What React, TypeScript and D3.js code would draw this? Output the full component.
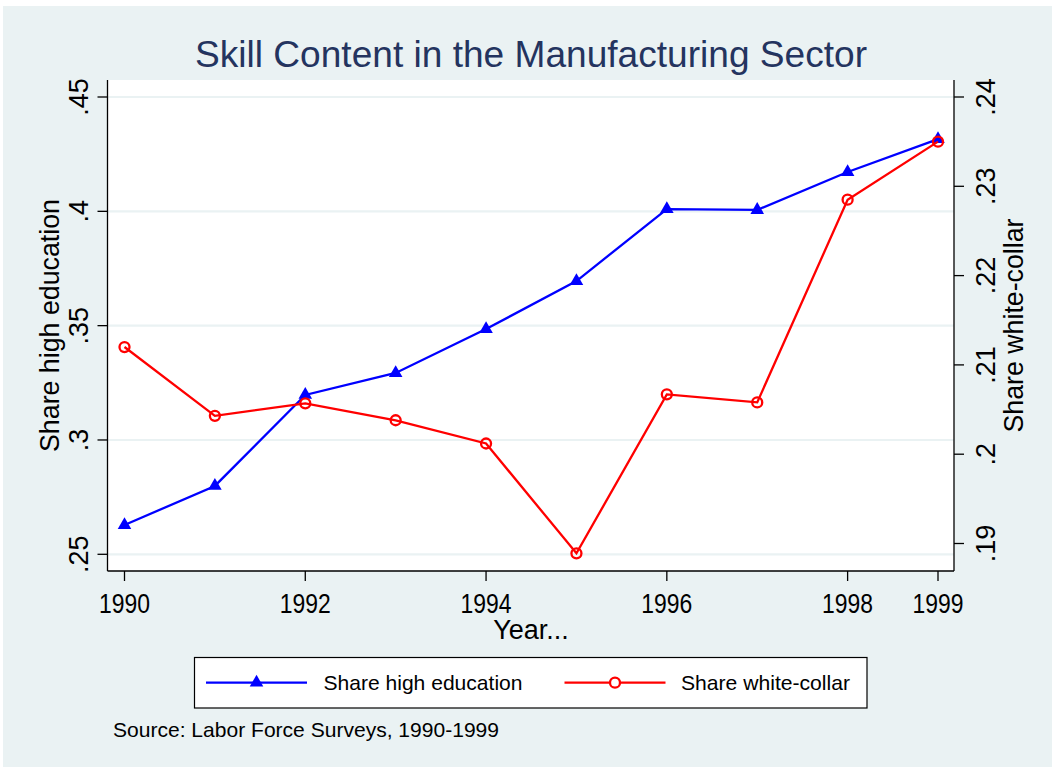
import React from "react";
import * as d3 from "d3";

// Data
const years = [1990, 1991, 1992, 1993, 1994, 1995, 1996, 1997, 1998, 1999];
const highEdu = [0.2628, 0.2799, 0.3197, 0.3293, 0.3485, 0.3695, 0.401, 0.4006, 0.4172, 0.4316];
const whiteCollar = [0.212, 0.2043, 0.2057, 0.2038, 0.2012, 0.1889, 0.2067, 0.2058, 0.2285, 0.235];

const xTicks = [1990, 1992, 1994, 1996, 1998, 1999];
const leftTicks = [0.25, 0.3, 0.35, 0.4, 0.45];
const rightTicks = [0.19, 0.2, 0.21, 0.22, 0.23, 0.24];

const fmt = (v: number) => {
  const s = String(+v.toFixed(3));
  return s.startsWith("0") ? s.slice(1) : s;
};

const W = 1055;
const H = 770;
const plot = { left: 107.5, right: 954, top: 80, bottom: 571 };

const BG = "#eaf2f3";
const FONT = "'Liberation Sans', Arial, sans-serif";
const BLUE = "#0000ff";
const RED = "#ff0000";

const App: React.FC = () => {
  const x = d3.scaleLinear().domain([1990, 1999]).range([124.5, 938]);
  const yL = d3.scaleLinear().domain([0.25, 0.45]).range([554.3, 97]);
  const yR = d3.scaleLinear().domain([0.19, 0.24]).range([543.5, 97]);

  const blueLine = d3
    .line<number>()
    .x((_, i) => x(years[i]))
    .y((d) => yL(d));
  const redLine = d3
    .line<number>()
    .x((_, i) => x(years[i]))
    .y((d) => yR(d));

  const tri = d3.symbol().type(d3.symbolTriangle).size(80)() as string;

  return (
    <svg
      width={W}
      height={H}
      style={{ position: "absolute", left: 0, top: 0, display: "block" }}
      fontFamily={FONT}
    >
      <rect x={0} y={0} width={W} height={H} fill="#ffffff" />
      <rect x={3} y={6} width={W - 6} height={H - 9} fill={BG} />
      <rect
        x={plot.left}
        y={plot.top}
        width={plot.right - plot.left}
        height={plot.bottom - plot.top}
        fill="#ffffff"
      />

      {/* title */}
      <text
        x={531}
        y={67}
        textAnchor="middle"
        fontSize={37}
        fill="#24345f"
        textLength={672}
        lengthAdjust="spacingAndGlyphs"
      >
        Skill Content in the Manufacturing Sector
      </text>

      {/* gridlines */}
      {leftTicks.map((t) => (
        <line
          key={"g" + t}
          x1={plot.left}
          x2={plot.right}
          y1={yL(t)}
          y2={yL(t)}
          stroke={BG}
          strokeWidth={2.2}
        />
      ))}

      {/* axes */}
      <line x1={plot.left} x2={plot.left} y1={plot.top} y2={plot.bottom} stroke="#000" strokeWidth={1.3} />
      <line x1={plot.right} x2={plot.right} y1={plot.top} y2={plot.bottom} stroke="#000" strokeWidth={1.3} />
      <line x1={plot.left} x2={plot.right} y1={plot.bottom} y2={plot.bottom} stroke="#000" strokeWidth={1.3} />

      {/* x ticks */}
      {xTicks.map((t) => (
        <g key={"x" + t}>
          <line x1={x(t)} x2={x(t)} y1={plot.bottom} y2={plot.bottom + 10} stroke="#000" strokeWidth={1.3} />
          <text
            x={x(t)}
            y={612.5}
            textAnchor="middle"
            fontSize={27}
            fill="#000"
            textLength={51}
            lengthAdjust="spacingAndGlyphs"
          >
            {t}
          </text>
        </g>
      ))}
      <text x={531} y={638.5} textAnchor="middle" fontSize={27} fill="#000">
        Year...
      </text>

      {/* left ticks */}
      {leftTicks.map((t) => (
        <g key={"l" + t}>
          <line x1={plot.left - 10} x2={plot.left} y1={yL(t)} y2={yL(t)} stroke="#000" strokeWidth={1.3} />
          <text
            transform={`translate(88,${yL(t)}) rotate(-90)`}
            textAnchor="middle"
            fontSize={27}
            fill="#000"
          >
            {fmt(t)}
          </text>
        </g>
      ))}
      <text
        transform={`translate(58.5,${(plot.top + plot.bottom) / 2}) rotate(-90)`}
        textAnchor="middle"
        fontSize={27}
        fill="#000"
        textLength={253}
        lengthAdjust="spacingAndGlyphs"
      >
        Share high education
      </text>

      {/* right ticks */}
      {rightTicks.map((t) => (
        <g key={"r" + t}>
          <line x1={plot.right} x2={plot.right + 10} y1={yR(t)} y2={yR(t)} stroke="#000" strokeWidth={1.3} />
          <text
            transform={`translate(995,${yR(t)}) rotate(-90)`}
            textAnchor="middle"
            fontSize={27}
            fill="#000"
          >
            {fmt(t)}
          </text>
        </g>
      ))}
      <text
        transform={`translate(1022.5,${(plot.top + plot.bottom) / 2}) rotate(-90)`}
        textAnchor="middle"
        fontSize={27}
        fill="#000"
        textLength={214}
        lengthAdjust="spacingAndGlyphs"
      >
        Share white-collar
      </text>

      {/* series */}
      <path d={blueLine(highEdu) ?? ""} fill="none" stroke={BLUE} strokeWidth={2.3} />
      {highEdu.map((v, i) => (
        <path key={"b" + i} d={tri} transform={`translate(${x(years[i])},${yL(v)})`} fill={BLUE} />
      ))}
      <path d={redLine(whiteCollar) ?? ""} fill="none" stroke={RED} strokeWidth={2.3} />
      {whiteCollar.map((v, i) => (
        <circle
          key={"r" + i}
          cx={x(years[i])}
          cy={yR(v)}
          r={5}
          fill="none"
          stroke={RED}
          strokeWidth={2.3}
        />
      ))}

      {/* legend */}
      <rect x={194.5} y={657.5} width={672.5} height={50.5} fill="#ffffff" stroke="#000" strokeWidth={1.2} />
      <line x1={206} x2={307} y1={682.7} y2={682.7} stroke={BLUE} strokeWidth={2.3} />
      <path d={tri} transform="translate(256.5,682.7)" fill={BLUE} />
      <text x={323.5} y={690} fontSize={21} fill="#000" textLength={199} lengthAdjust="spacingAndGlyphs">
        Share high education
      </text>
      <line x1={564.5} x2={665.5} y1={682.7} y2={682.7} stroke={RED} strokeWidth={2.3} />
      <circle cx={615} cy={682.7} r={5} fill="#ffffff" stroke={RED} strokeWidth={2.3} />
      <text x={681} y={690} fontSize={21} fill="#000" textLength={169} lengthAdjust="spacingAndGlyphs">
        Share white-collar
      </text>

      {/* note */}
      <text x={113} y={737} fontSize={21} fill="#000" textLength={386} lengthAdjust="spacingAndGlyphs">
        Source: Labor Force Surveys, 1990-1999
      </text>
    </svg>
  );
};

export default App;
